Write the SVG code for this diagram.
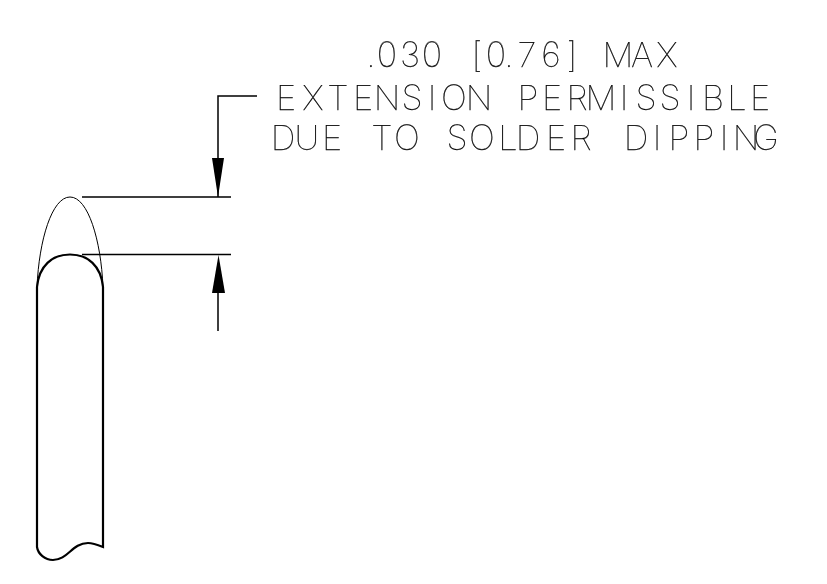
<svg xmlns="http://www.w3.org/2000/svg" width="827" height="584" viewBox="0 0 827 584">
<style>
.l{fill:none;stroke:#000;stroke-width:1.5}
.b{fill:none;stroke:#000;stroke-width:2.2}
.t{fill:none;stroke:#000;stroke-width:1}
.a{fill:#000;stroke:none}
#note{mix-blend-mode:multiply}
text{font-family:"Inter","Liberation Sans",sans-serif;font-weight:100;font-size:34.500px;fill:#000;stroke:#000;stroke-width:.25;text-anchor:middle}
</style>
<rect width="827" height="584" fill="#fff"/>
<g id="lead">
<path class="b" d="M37 547V287C39 266 52 254.500 70 254.500C88 254.500 101 266 103 287V547C98 545 93 543 88 543C72 543 68 560 53 560C45 560 38 554 37 547Z"/>
</g>
<g id="solder">
<path class="t" d="M37 287C39 240 52 197 70 197C88 197 101 240 103 287"/>
</g>
<g id="connectors">
<path class="l" d="M82 197H231M82 254.500H231M257 96H218V197M218 293V331"/>
<polygon class="a" points="212,158 224,158 218,197"/>
<polygon class="a" points="212,293 225,293 218.500,255"/>
</g>
<g id="note">
<text y="67" x="371 387 410 432 455 477 496 509 527 551 572 595 618 642 667">.030 [0.76] MAX</text>
<text y="110" x="286 313 338 363 387 412 432 454 479 503 528 552 577 601 624 646 670 691 713 737 760">EXTENSION PERMISSIBLE</text>
<text y="150" x="283 307 332 357 382 407 432 457 482 508 528 556 581 608 636 657 679 704 724 746 766">DUE TO SOLDER DIPPING</text>
</g>
</svg>
